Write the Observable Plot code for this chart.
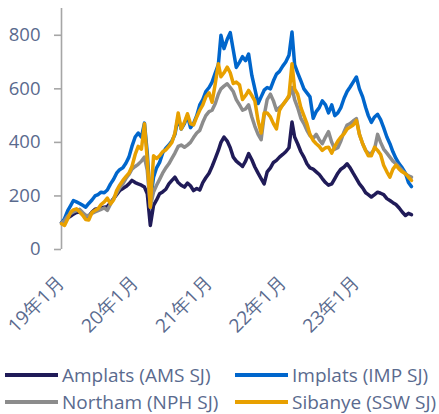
<!DOCTYPE html>
<html><head><meta charset="utf-8">
<script src="https://cdn.jsdelivr.net/npm/d3@7"></script>
<script src="https://cdn.jsdelivr.net/npm/@observablehq/plot@0.6"></script>
<style>
body{margin:0;background:#fff;font-family:"Open Sans",sans-serif;}
#chart{position:relative;width:439px;height:414px;}
#chart svg{position:absolute;left:0;top:0;}
.leg{position:absolute;display:flex;align-items:center;height:18px;font-size:19px;line-height:18px;color:#5a6a8e;white-space:nowrap;}
.leg .sw{display:inline-block;width:53px;height:3.5px;margin-right:4px;}
</style></head><body><div id="chart"></div>
<script>
const dates = [
"2019-01-01","2019-01-16","2019-02-01","2019-02-16","2019-03-01","2019-03-16","2019-04-01","2019-04-16","2019-05-01","2019-05-16","2019-06-01","2019-06-16","2019-07-01","2019-07-16","2019-08-01","2019-08-16","2019-09-01","2019-09-16","2019-10-01","2019-10-16","2019-11-01","2019-11-16","2019-12-01","2019-12-16",
"2020-01-01","2020-01-16","2020-02-01","2020-02-16","2020-03-01","2020-03-16","2020-04-01","2020-04-16","2020-05-01","2020-05-16","2020-06-01","2020-06-16","2020-07-01","2020-07-16","2020-08-01","2020-08-16","2020-09-01","2020-09-16","2020-10-01","2020-10-16","2020-11-01","2020-11-16","2020-12-01","2020-12-16",
"2021-01-01","2021-01-16","2021-02-01","2021-02-16","2021-03-01","2021-03-16","2021-04-01","2021-04-16","2021-05-01","2021-05-16","2021-06-01","2021-06-16","2021-07-01","2021-07-16","2021-08-01","2021-08-16","2021-09-01","2021-09-16","2021-10-01","2021-10-16","2021-11-01","2021-11-16","2021-12-01","2021-12-16",
"2022-01-01","2022-01-16","2022-02-01","2022-02-16","2022-03-01","2022-03-16","2022-04-01","2022-04-16","2022-05-01","2022-05-16","2022-06-01","2022-06-16","2022-07-01","2022-07-16","2022-08-01","2022-08-16","2022-09-01","2022-09-16","2022-10-01","2022-10-16","2022-11-01","2022-11-16","2022-12-01","2022-12-16",
"2023-01-01","2023-01-16","2023-02-01","2023-02-16","2023-03-01","2023-03-16","2023-04-01","2023-04-16","2023-05-01","2023-05-16","2023-06-01","2023-06-16","2023-07-01","2023-07-16","2023-08-01","2023-08-16","2023-09-01","2023-09-16","2023-10-01"
];
const amplats = [
100,105,118,125,132,138,140,132,126,125,140,150,152,155,158,160,175,190,205,220,228,235,245,258,
250,245,240,233,208,90,165,185,208,215,225,245,258,270,250,240,233,248,238,220,228,222,250,268,
285,310,340,370,400,420,405,380,345,330,320,310,330,358,335,308,285,265,245,290,305,325,333,345,
355,365,380,476,420,395,365,345,320,305,300,290,280,265,250,240,245,265,285,300,308,320,305,285,
265,245,230,212,205,196,205,214,210,205,190,183,175,168,155,140,127,135,130
];
const implats = [
100,115,145,165,183,178,172,165,158,172,185,200,205,214,212,222,245,262,285,298,305,322,345,385,
420,435,420,472,360,180,270,305,325,360,378,390,405,430,495,450,470,500,455,470,500,540,560,590,
605,625,660,690,800,750,785,810,745,680,700,720,705,730,650,600,545,570,595,605,600,630,655,665,
685,700,725,812,690,660,630,600,585,570,490,515,530,555,540,510,540,500,510,530,565,590,607,625,
644,600,570,530,500,475,495,505,485,455,420,395,365,340,320,305,285,250,235
];
const northam = [
100,108,125,135,140,145,150,138,128,125,135,140,145,150,155,146,170,190,210,230,245,265,280,300,
310,318,330,345,295,158,215,240,262,285,305,320,340,360,385,390,382,390,400,418,435,445,475,500,
515,520,545,580,600,610,619,605,590,560,540,520,525,540,495,460,430,410,500,560,580,555,520,530,
540,555,570,605,560,530,490,470,445,425,415,430,410,395,420,440,400,375,380,405,440,465,470,480,
489,430,395,370,360,358,375,430,400,375,360,345,330,320,308,295,283,275,270
];
const sibanye = [
96,90,115,140,148,152,140,128,112,110,138,146,152,168,178,192,170,185,220,240,258,272,285,310,
355,385,375,470,333,158,350,340,350,365,372,385,400,435,510,450,475,507,470,465,495,520,540,570,
585,550,620,694,645,660,681,660,620,625,615,560,575,594,575,555,480,435,510,510,495,470,450,520,
540,555,575,694,600,580,530,500,470,430,407,395,385,370,380,382,360,385,405,420,432,450,457,465,
482,430,395,370,350,350,382,370,355,315,290,270,300,315,300,290,283,270,258
];
const seriesNames = ["Amplats (AMS SJ)","Implats (IMP SJ)","Northam (NPH SJ)","Sibanye (SSW SJ)"];
const seriesColors = ["#201b58","#0066cc","#8c8c8c","#e8a000"];
const seriesValues = [amplats, implats, northam, sibanye];
const yTicks = [0,200,400,600,800];
const xTickDates = ["2019-01-01","2020-01-01","2021-01-01","2022-01-01","2023-01-01"];
const xTickLabels = ["19年1月","20年1月","21年1月","22年1月","23年1月"];

const labelOf = new Map(xTickDates.map((d,i)=>[+new Date(d), xTickLabels[i]]));
const textColor = "#5a6a8e";
const axisColor = "#a6a6a6";

const lineMarks = seriesValues.map((vals, k) =>
  Plot.lineY(vals.map((v,i)=>({date:new Date(dates[i]), value:v})),
    {x:"date", y:"value", stroke:seriesColors[k], strokeWidth:3.5, strokeLinejoin:"round", strokeLinecap:"round"}));

const plot = Plot.plot({
  width:439, height:355,
  marginLeft:61, marginRight:28, marginTop:8, marginBottom:106,
  style:{fontFamily:"'Open Sans', sans-serif", fontSize:"18.5px", color:textColor, background:"white", overflow:"visible"},
  x:{type:"utc", domain:[new Date("2019-01-01"), new Date("2023-10-01")]},
  y:{domain:[0,900]},
  marks:[
    Plot.ruleX([new Date("2019-01-01")], {y1:0, y2:900, stroke:axisColor, strokeWidth:1.6}),
    Plot.axisY({ticks:yTicks, tickSize:7, tickPadding:14, stroke:axisColor, strokeWidth:1.6, fill:textColor, fontSize:18.5, label:null}),
    Plot.axisX({ticks:xTickDates.map(d=>new Date(d)), tickFormat:d=>labelOf.get(+d), tickRotate:-45, tickSize:0, tickPadding:30, fill:textColor, fontSize:19, label:null}),
    ...lineMarks
  ]
});
const chart = document.getElementById("chart");
chart.appendChild(plot);

const legPos = [[5,366],[235,366],[5,393],[235,393]];
seriesNames.forEach((n,k)=>{
  const d = document.createElement("div");
  d.className = "leg";
  d.style.left = legPos[k][0]+"px";
  d.style.top = legPos[k][1]+"px";
  const sw = document.createElement("span");
  sw.className = "sw";
  sw.style.background = seriesColors[k];
  d.appendChild(sw);
  d.appendChild(document.createTextNode(n));
  chart.appendChild(d);
});
</script></body></html>
